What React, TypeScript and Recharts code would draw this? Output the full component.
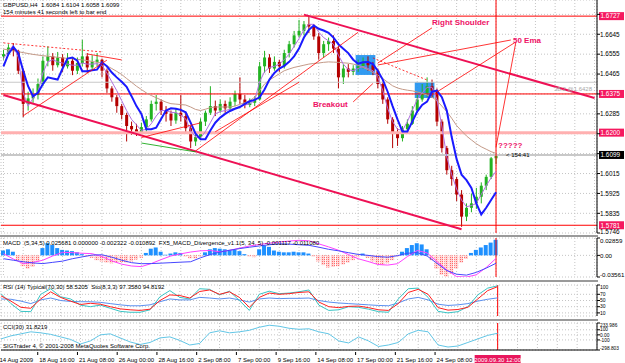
import React from 'react'
import { ComposedChart, Bar, Line, XAxis, YAxis, CartesianGrid, ReferenceLine, ReferenceArea, Cell } from 'recharts'

// GBPUSD H4, one candle here = two real H4 bars
const closes = [1.6555,1.6585,1.6570,1.6480,1.6330,1.6355,1.6370,1.6420,1.6525,1.6545,
  1.6505,1.6540,1.6500,1.6525,1.6480,1.6515,1.6545,1.6495,1.6520,1.6530,
  1.6480,1.6400,1.6360,1.6320,1.6280,1.6230,1.6215,1.6200,1.6225,1.6260,
  1.6330,1.6340,1.6300,1.6285,1.6255,1.6290,1.6275,1.6220,1.6160,1.6180,
  1.6250,1.6290,1.6320,1.6300,1.6330,1.6310,1.6340,1.6375,1.6350,1.6325,
  1.6335,1.6350,1.6500,1.6540,1.6490,1.6520,1.6500,1.6560,1.6600,1.6640,
  1.6660,1.6690,1.6680,1.6635,1.6560,1.6600,1.6615,1.6580,1.6450,1.6490,
  1.6475,1.6490,1.6500,1.6520,1.6505,1.6480,1.6420,1.6350,1.6260,1.6200,
  1.6175,1.6215,1.6240,1.6300,1.6350,1.6380,1.6410,1.6390,1.6250,1.6130,
  1.6030,1.5990,1.5920,1.5820,1.5860,1.5880,1.5910,1.5960,1.6000,1.6084,
  1.6099]
const highs = [1.6575,1.6600,1.6605,1.6575,1.6490,1.6385,1.6400,1.6445,1.6545,1.6590,
  1.6560,1.6565,1.6555,1.6560,1.6540,1.6540,1.6620,1.6560,1.6550,1.6560,
  1.6535,1.6490,1.6410,1.6370,1.6330,1.6290,1.6250,1.6240,1.6245,1.6275,
  1.6345,1.6370,1.6350,1.6320,1.6300,1.6310,1.6370,1.6290,1.6230,1.6200,
  1.6265,1.6300,1.6410,1.6345,1.6350,1.6345,1.6360,1.6390,1.6450,1.6370,
  1.6355,1.6365,1.6520,1.6570,1.6555,1.6545,1.6530,1.6575,1.6615,1.6660,
  1.6710,1.6705,1.6727,1.6690,1.6650,1.6615,1.6630,1.6640,1.6590,1.6510,
  1.6510,1.6505,1.6530,1.6540,1.6545,1.6520,1.6490,1.6430,1.6360,1.6270,
  1.6220,1.6230,1.6260,1.6320,1.6370,1.6420,1.6450,1.6440,1.6400,1.6260,
  1.6140,1.6050,1.6000,1.5940,1.5880,1.5925,1.5950,1.5975,1.6010,1.6090,
  1.6104]
const lows = [1.6530,1.6550,1.6545,1.6465,1.6270,1.6300,1.6335,1.6350,1.6410,1.6500,
  1.6480,1.6495,1.6475,1.6490,1.6460,1.6465,1.6500,1.6470,1.6485,1.6500,
  1.6450,1.6380,1.6340,1.6290,1.6260,1.6160,1.6190,1.6185,1.6195,1.6205,
  1.6250,1.6300,1.6280,1.6250,1.6230,1.6240,1.6250,1.6200,1.6130,1.6140,
  1.6170,1.6230,1.6280,1.6275,1.6290,1.6290,1.6300,1.6320,1.6330,1.6310,
  1.6315,1.6320,1.6345,1.6470,1.6470,1.6480,1.6475,1.6490,1.6540,1.6585,
  1.6630,1.6640,1.6650,1.6620,1.6530,1.6540,1.6570,1.6560,1.6400,1.6420,
  1.6450,1.6460,1.6475,1.6490,1.6480,1.6460,1.6400,1.6330,1.6240,1.6130,
  1.6140,1.6160,1.6200,1.6235,1.6290,1.6340,1.6360,1.6360,1.6230,1.6110,
  1.6010,1.5960,1.5890,1.5774,1.5800,1.5840,1.5855,1.5880,1.5940,1.5990,
  1.6058]
const firstOpen = 1.6545

// moving averages
const blueMA = [1.6500,1.6555,1.6588,1.6560,1.6480,1.6410,1.6365,1.6380,1.6420,1.6450,
  1.6445,1.6440,1.6490,1.6535,1.6540,1.6525,1.6478,1.6478,1.6482,1.6485,
  1.6518,1.6500,1.6472,1.6450,1.6430,1.6407,1.6365,1.6320,1.6285,1.6215,
  1.6215,1.6222,1.6262,1.6300,1.6310,1.6308,1.6303,1.6292,1.6245,1.6195,
  1.6170,1.6170,1.6210,1.6245,1.6268,1.6285,1.6298,1.6308,1.6316,1.6330,
  1.6342,1.6348,1.6360,1.6395,1.6440,1.6470,1.6490,1.6502,1.6520,1.6545,
  1.6580,1.6630,1.6665,1.6685,1.6670,1.6662,1.6652,1.6630,1.6600,1.6580,
  1.6560,1.6530,1.6512,1.6518,1.6520,1.6510,1.6480,1.6440,1.6385,1.6320,
  1.6260,1.6205,1.6205,1.6250,1.6295,1.6325,1.6340,1.6385,1.6390,1.6360,
  1.6300,1.6180,1.6080,1.6010,1.5985,1.5950,1.5880,1.5830,1.5860,1.5895,
  1.5930]
const violetMA = [1.6535,1.6570,1.6595,1.6540,1.6380,1.6320,1.6355,1.6385,1.6470,1.6520,
  1.6530,1.6520,1.6515,1.6510,1.6505,1.6505,1.6515,1.6510,1.6510,1.6512,
  1.6505,1.6470,1.6430,1.6390,1.6345,1.6300,1.6260,1.6235,1.6210,1.6215,
  1.6240,1.6275,1.6300,1.6300,1.6292,1.6290,1.6280,1.6262,1.6210,1.6180,
  1.6175,1.6205,1.6245,1.6285,1.6295,1.6300,1.6305,1.6310,1.6318,1.6325,
  1.6330,1.6345,1.6430,1.6475,1.6495,1.6500,1.6510,1.6530,1.6555,1.6590,
  1.6625,1.6665,1.6690,1.6690,1.6655,1.6630,1.6615,1.6600,1.6550,1.6510,
  1.6485,1.6480,1.6490,1.6500,1.6490,1.6480,1.6450,1.6390,1.6310,1.6250,
  1.6215,1.6210,1.6250,1.6300,1.6350,1.6380,1.6405,1.6405,1.6350,1.6230,
  1.6090,1.6010,1.5945,1.5895,1.5865,1.5870,1.5880,1.5920,1.5960,1.5995,
  1.6025]
const ema50 = [1.6578,1.6574,1.6570,1.6566,1.6562,1.6558,1.6554,1.6551,1.6548,1.6546,
  1.6543,1.6541,1.6538,1.6536,1.6534,1.6531,1.6529,1.6526,1.6522,1.6518,
  1.6515,1.6502,1.6490,1.6477,1.6463,1.6445,1.6428,1.6410,1.6395,1.6380,
  1.6368,1.6358,1.6348,1.6338,1.6331,1.6329,1.6327,1.6325,1.6316,1.6305,
  1.6300,1.6306,1.6313,1.6316,1.6316,1.6316,1.6316,1.6320,1.6328,1.6336,
  1.6345,1.6360,1.6390,1.6420,1.6438,1.6452,1.6466,1.6480,1.6488,1.6495,
  1.6500,1.6505,1.6510,1.6513,1.6515,1.6518,1.6520,1.6519,1.6518,1.6516,
  1.6514,1.6510,1.6505,1.6495,1.6485,1.6472,1.6460,1.6445,1.6428,1.6412,
  1.6402,1.6396,1.6392,1.6389,1.6384,1.6378,1.6370,1.6360,1.6345,1.6320,
  1.6295,1.6265,1.6232,1.6208,1.6185,1.6167,1.6150,1.6136,1.6125,1.6114,
  1.6106]

// MACD histogram, one per candle
const macdHist = [0.008,0.010,0.006,-0.008,-0.018,-0.022,-0.019,-0.010,0.012,0.020,
  0.017,0.012,0.009,0.008,0.007,0.005,0.002,-0.002,-0.004,-0.008,
  -0.010,-0.012,-0.013,-0.012,-0.011,-0.012,-0.010,-0.007,-0.004,0.004,
  0.011,0.013,0.006,0.001,0.003,0.005,0.004,-0.002,-0.005,-0.005,
  -0.002,0.005,0.010,0.012,0.011,0.010,0.009,0.009,0.007,0.002,
  -0.002,-0.003,0.010,0.016,0.014,0.008,0.006,0.005,0.005,0.006,
  0.005,0.005,0.003,-0.002,-0.010,-0.016,-0.020,-0.019,-0.018,-0.015,
  -0.012,-0.008,-0.003,0.003,-0.004,-0.010,-0.014,-0.016,-0.013,-0.008,
  -0.002,0.006,0.012,0.017,0.020,0.018,0.010,-0.008,-0.022,-0.032,
  -0.035,-0.030,-0.022,-0.012,-0.006,0.004,0.009,0.013,0.017,0.021,
  0.0257]
// indicator lines, one value every second candle
const macdBlue = [-0.0055,-0.0080,-0.0105,-0.0125,-0.0135,-0.0115,-0.0095,-0.0055,-0.0025,0.0005,
  0.0010,-0.0030,-0.0080,-0.0120,-0.0137,-0.0135,-0.0128,-0.0120,-0.0112,-0.0105,
  -0.0040,0.0015,0.0055,0.0085,0.0112,0.0135,0.0155,0.0175,0.0190,0.0185,
  0.0175,0.0166,0.0135,0.0100,0.0075,0.0045,0.0016,0.0000,-0.0020,-0.0030,
  -0.0005,0.0035,0.0045,-0.0010,-0.0130,-0.0250,-0.0310,-0.0325,-0.0280,-0.0210,
  -0.0130]
const macdPink = [0.0027,-0.0060,-0.0135,-0.0115,-0.0080,-0.0010,0.0050,0.0045,0.0035,0.0028,
  -0.0020,-0.0090,-0.0145,-0.0175,-0.0185,-0.0135,-0.0070,-0.0010,0.0025,0.0055,
  0.0075,0.0080,0.0058,0.0085,0.0120,0.0155,0.0180,0.0200,0.0220,0.0235,
  0.0248,0.0240,0.0190,0.0140,0.0085,0.0015,-0.0055,-0.0100,-0.0150,-0.0160,
  -0.0137,-0.0020,0.0080,0.0040,-0.0100,-0.0240,-0.0350,-0.0357,-0.0320,-0.0200,
  -0.0050]
const stoSignal = [65,48,28,25,55,78,60,48,37,41,38,30,23,20,18,22,50,68,66,58,79,84,70,78,60,
  28,60,74,70,72,76,78,45,30,27,31,32,27,20,18,40,76,86,70,27,19,21,28,55,82,94.8]
const stoMain = [72,40,15,14,70,88,62,55,35,30,35,25,15,12,12,20,62,82,60,55,88,86,68,80,50,
  18,70,80,72,74,78,84,35,18,20,30,28,22,14,12,55,88,90,60,15,10,14,30,68,90,97.4]
const rsi = [55,54,48,40,52,58,50,47,46,46,44,40,36,33,33,36,46,55,52,52,60,58,55,58,52,
  45,55,58,56,57,57,58,50,45,42,40,38,36,34,33,42,55,60,52,38,34,36,40,48,54,58.5]
const cci = [-80,-20,20,60,40,10,-40,-90,-180,-120,0,20,-60,-140,-190,-150,-60,-40,-110,-200,
  -170,40,80,40,60,90,150,190,170,130,110,120,60,20,-120,-160,-40,-120,-230,-200,
  -150,20,90,60,-200,-240,-220,-150,-80,-10,32]

const xLabels = ['14 Aug 2009','18 Aug 16:00','21 Aug 08:00','26 Aug 00:00','28 Aug 16:00','2 Sep 08:00',
  '7 Sep 00:00','9 Sep 16:00','14 Sep 08:00','17 Sep 00:00','21 Sep 16:00','24 Sep 08:00']
const currentLabel = '2009.09.30 12:00'
const priceTicks = [1.6735,1.6645,1.6555,1.6465,1.6375,1.6285,1.6195,1.6105,1.6015,1.5925,1.5835,1.5746]
const hiddenPriceTicks = [1.6735,1.6375,1.6195,1.6105]
const macdTicks = [0.02859, 0, -0.03561]
const rsiTicks = [100, 70, 50, 30, 10]
const cciTicks = [233.986, 100, 0, -100, -298.803]

const SLOTS = 121
const LAST = closes.length - 1
const gridTicks = Array.from({ length: 31 }, (_, k) => k * 4)

const rows = Array.from({ length: SLOTS }, (_, j) => {
  const has = j <= LAST
  const even = j % 2 === 0 && has
  return {
    j,
    range: has ? [lows[j], highs[j]] : null,
    o: has ? (j === 0 ? firstOpen : closes[j - 1]) : null,
    c: has ? closes[j] : null,
    h: has ? highs[j] : null,
    l: has ? lows[j] : null,
    blue: has ? blueMA[j] : null,
    violet: has ? violetMA[j] : null,
    brown: has ? ema50[j] : null,
    hist: has ? macdHist[j] : null,
    mBlue: even ? macdBlue[j / 2] : null,
    mPink: even ? macdPink[j / 2] : null,
    sSig: even ? stoSignal[j / 2] : null,
    sMain: even ? stoMain[j / 2] : null,
    rsi: even ? rsi[j / 2] : null,
    cci: even ? cci[j / 2] : null,
  }
})

const RED = '#ff0000'
const TREND = '#ee1155'
const NOTE = '#ee1166'
const GRID = '#c4c4c4'
const FONT = '"Liberation Sans", Arial, sans-serif'

function Candle(props: any) {
  const { x, y, width, height, payload } = props
  if (!payload || payload.c == null || !isFinite(y)) return <g />
  const top = Math.min(y, y + height)
  const h = Math.abs(height)
  const k = h / Math.max(payload.h - payload.l, 1e-9)
  const bTop = top + (payload.h - Math.max(payload.o, payload.c)) * k
  const bBot = top + (payload.h - Math.min(payload.o, payload.c)) * k
  const col = payload.c >= payload.o ? '#22b322' : '#b40000'
  const cx = x + width / 2
  return (
    <g>
      <line x1={cx} x2={cx} y1={top} y2={top + h} stroke={col} strokeWidth={1} />
      <rect x={x} y={bTop} width={width} height={Math.max(1, bBot - bTop)} fill={col} />
    </g>
  )
}

function PriceTick(props: any) {
  const { x, y, payload } = props
  if (hiddenPriceTicks.some((v) => Math.abs(v - payload.value) < 1e-6)) return <g />
  const ty = payload.value === 1.5746 ? y + 1.2 : y + 2.3
  return <text x={x - 2} y={ty} fontSize={6.4} fill="#000">{payload.value.toFixed(4)}</text>
}

const tag = (text: string, bg: string) => (props: any) => {
  const vb = props.viewBox || {}
  const x = (vb.x || 0) + (vb.width || 0)
  const y = vb.y || 0
  return (
    <g>
      <rect x={x + 2} y={y - 4} width={25} height={8} fill={bg} />
      <text x={x + 3.5} y={y + 2.3} fontSize={6.4} fill="#fff">{text}</text>
    </g>
  )
}

function XTick(props: any) {
  const { x, y, payload } = props
  const v = payload.value
  if (v === 100) {
    return (
      <g>
        <rect x={x - 23} y={y - 1} width={46} height={9} fill="#e8175d" />
        <text x={x} y={y + 5.8} fontSize={6} fill="#fff" textAnchor="middle">{currentLabel}</text>
      </g>
    )
  }
  if (v % 8 !== 0 || v / 8 >= xLabels.length) return <g />
  return (
    <g>
      <line x1={x - 3} x2={x - 3} y1={y - 4} y2={y - 1} stroke="#000" />
      <text x={x - 1.5} y={y + 5.8} fontSize={6} fill="#000">{xLabels[v / 8]}</text>
    </g>
  )
}

// right-hand labels of the sub windows; labels at the panel edges are pulled inside
const sideTick = (fmt: (v: number) => string, top: number, bottom: number, size: number) => (props: any) => {
  const v = props.payload.value
  const ty = v === top ? props.y + size * 0.8 : v === bottom ? props.y - 0.5 : props.y + size * 0.35
  return <text x={props.x - 2} y={ty} fontSize={size} fill="#000">{fmt(v)}</text>
}

const seg = (x1: number, y1: number, x2: number, y2: number) => [{ x: x1, y: y1 }, { x: x2, y: y2 }]

const panelLabel: React.CSSProperties = { position: 'absolute', left: 3, fontSize: 6, lineHeight: '7px', whiteSpace: 'nowrap', color: '#000' }
const note: React.CSSProperties = { position: 'absolute', fontSize: 8, fontWeight: 700, color: NOTE, whiteSpace: 'nowrap', lineHeight: '9px' }
const sep = (top: number): React.CSSProperties => ({ position: 'absolute', left: 0, top, width: 598, height: 2, background: '#9a9a9a' })

export default function App() {
  const common = { data: rows, width: 625 }
  return (
    <div style={{ position: 'relative', width: 625, height: 363, background: '#fff', fontFamily: FONT, overflow: 'hidden' }}>
      <style>{'body{margin:0}'}</style>

      <div style={{ position: 'absolute', top: 0, left: 0 }}>
        <ComposedChart {...common} height={235} margin={{ top: 0, right: 0, bottom: 2, left: 1 }}>
          <CartesianGrid stroke={GRID} strokeDasharray="1 2" />
          <XAxis dataKey="j" hide ticks={gridTicks} interval={0} />
          <YAxis orientation="right" width={28} domain={[1.5746, 1.68]} allowDataOverflow ticks={priceTicks} interval={0}
            tick={(p: any) => <PriceTick {...p} />} tickSize={3} axisLine={{ stroke: '#000' }} tickLine={{ stroke: '#000' }} />
          <ReferenceArea x1={72} x2={75} y1={1.6461} y2={1.6551} fill="#1c90f0" fillOpacity={0.9} stroke="none" />
          <ReferenceArea x1={84} x2={87} y1={1.6357} y2={1.6429} fill="#1c90f0" fillOpacity={0.9} stroke="none" />
          <ReferenceLine y={1.6428} stroke="#c8c8c8" label={{ value: '38.2 @1.6428', position: 'insideTopRight', fontSize: 6, fill: '#a8a8a8' }} />
          <ReferenceLine y={1.6099} stroke="#c8c8c8" strokeWidth={2} label={tag('1.6099', '#000')} />
          <ReferenceLine y={1.62} stroke="#ffb0b0" strokeWidth={3} label={tag('1.6200', '#f5195f')} />
          <ReferenceLine y={1.6727} stroke={RED} label={tag('1.6727', '#f5195f')} />
          <ReferenceLine y={1.6375} stroke={RED} label={tag('1.6375', '#f5195f')} />
          <ReferenceLine y={1.5781} stroke={RED} label={tag('1.5781', '#f5195f')} />
          <ReferenceLine x={100} stroke={RED} />
          <Bar dataKey="range" barSize={3} shape={(p: any) => <Candle {...p} />} isAnimationActive={false} />
          <Line dataKey="brown" stroke="#c49a88" strokeWidth={1} dot={false} isAnimationActive={false} />
          <Line dataKey="violet" stroke="#b070e0" strokeWidth={1} dot={false} isAnimationActive={false} />
          <Line dataKey="blue" stroke="#1a1aff" strokeWidth={2} dot={false} isAnimationActive={false} />
          <ReferenceLine segment={seg(0, 1.6370, 93, 1.5763)} stroke={TREND} strokeWidth={2} />
          <ReferenceLine segment={seg(61, 1.6734, 120, 1.6357)} stroke={TREND} strokeWidth={2} />
          <ReferenceLine segment={seg(39, 1.6117, 72, 1.6654)} stroke={RED} strokeWidth={0.8} />
          <ReferenceLine segment={seg(43, 1.6204, 60, 1.6428)} stroke={RED} strokeWidth={0.8} />
          <ReferenceLine segment={seg(0, 1.6606, 20, 1.6565)} stroke={RED} strokeWidth={0.8} strokeDasharray="2 2" />
          <ReferenceLine segment={seg(17, 1.6556, 24, 1.6529)} stroke={RED} strokeWidth={0.8} />
          <ReferenceLine segment={seg(4, 1.6276, 21, 1.6528)} stroke={RED} strokeWidth={0.8} />
          <ReferenceLine segment={seg(28, 1.6178, 40, 1.6244)} stroke={RED} strokeWidth={0.8} />
          <ReferenceLine segment={seg(28, 1.6153, 39, 1.6113)} stroke="#00a000" strokeWidth={0.8} />
          <ReferenceLine segment={seg(87, 1.6674, 76, 1.6515)} stroke={RED} strokeWidth={0.8} />
          <ReferenceLine segment={seg(103, 1.6619, 76, 1.6506)} stroke={RED} strokeWidth={0.8} />
          <ReferenceLine segment={seg(104, 1.6610, 88, 1.6384)} stroke={RED} strokeWidth={0.8} />
          <ReferenceLine segment={seg(104, 1.6606, 100, 1.6135)} stroke={RED} strokeWidth={0.8} />
          <ReferenceLine segment={seg(71, 1.6339, 75, 1.6422)} stroke={RED} strokeWidth={0.8} />
          <ReferenceLine segment={seg(75, 1.6538, 86, 1.6438)} stroke={RED} strokeWidth={0.8} strokeDasharray="2 2" />
        </ComposedChart>
      </div>

      <div style={sep(235)} />
      <div style={{ position: 'absolute', top: 237, left: 0 }}>
        <ComposedChart {...common} height={43} margin={{ top: 1, right: 0, bottom: 3, left: 1 }}>
          <defs>
            <pattern id="negDots" width="2" height="2" patternUnits="userSpaceOnUse">
              <rect x="0" y="0" width="2" height="2" fill="#ffd6d6" />
              <rect x="0" y="0" width="1" height="1" fill="#ff6a6a" />
            </pattern>
          </defs>
          <CartesianGrid stroke={GRID} strokeDasharray="1 2" />
          <XAxis dataKey="j" hide ticks={gridTicks} interval={0} />
          <YAxis orientation="right" width={28} domain={[-0.03561, 0.02859]} allowDataOverflow ticks={macdTicks} interval={0}
            tick={sideTick((v) => (v === 0 ? '0.00' : String(v)), 0.02859, -0.03561, 6.2)} tickSize={3} axisLine={{ stroke: '#000' }} tickLine={{ stroke: '#000' }} />
          <ReferenceLine x={100} stroke={RED} />
          <Bar dataKey="hist" barSize={4} isAnimationActive={false}>
            {rows.map((r) => (
              <Cell key={r.j} fill={(r.hist ?? 0) >= 0 ? '#1e90ff' : 'url(#negDots)'} />
            ))}
          </Bar>
          <Line dataKey="mPink" stroke="#ff40ff" strokeWidth={1} dot={false} connectNulls isAnimationActive={false} />
          <Line dataKey="mBlue" stroke="#4646ff" strokeWidth={1} dot={false} connectNulls isAnimationActive={false} />
        </ComposedChart>
      </div>

      <div style={sep(280)} />
      <div style={{ position: 'absolute', top: 282, left: 0 }}>
        <ComposedChart {...common} height={37} margin={{ top: 3, right: 0, bottom: 3, left: 1 }}>
          <CartesianGrid stroke={GRID} strokeDasharray="1 2" />
          <XAxis dataKey="j" hide ticks={gridTicks} interval={0} />
          <YAxis orientation="right" width={28} domain={[0, 100]} ticks={rsiTicks} interval={0}
            tick={sideTick((v) => String(v), 100, 0, 5)} tickSize={3} axisLine={{ stroke: '#000' }} tickLine={{ stroke: '#000' }} />
          <ReferenceLine x={100} stroke={RED} />
          <Line dataKey="rsi" stroke="#5a8ff0" strokeWidth={1} dot={false} connectNulls isAnimationActive={false} />
          <Line dataKey="sMain" stroke="#38c4c4" strokeWidth={1} dot={false} connectNulls isAnimationActive={false} />
          <Line dataKey="sSig" stroke="#ff2020" strokeWidth={1} dot={false} connectNulls isAnimationActive={false} />
        </ComposedChart>
      </div>

      <div style={sep(319)} />
      <div style={{ position: 'absolute', top: 321, left: 0 }}>
        <ComposedChart {...common} height={42} margin={{ top: 2, right: 0, bottom: 0, left: 1 }}>
          <CartesianGrid stroke={GRID} strokeDasharray="1 2" />
          <XAxis dataKey="j" height={13} ticks={gridTicks} interval={0} tick={(p: any) => <XTick {...p} />}
            tickLine={false} tickSize={4} axisLine={{ stroke: '#000' }} />
          <YAxis orientation="right" width={28} domain={[-298.803, 233.986]} allowDataOverflow ticks={cciTicks} interval={0}
            tick={sideTick((v) => (v === 0 ? '0.00' : String(v)), 233.986, -298.803, 4.8)} tickSize={3} axisLine={{ stroke: '#000' }} tickLine={{ stroke: '#000' }} />
          <ReferenceLine x={100} stroke={RED} />
          <Line dataKey="cci" stroke="#62c6e6" strokeWidth={1} dot={false} connectNulls isAnimationActive={false} />
        </ComposedChart>
      </div>

      <div style={{ ...panelLabel, top: 2 }}>GBPUSD,H4&nbsp;&nbsp;1.6084 1.6104 1.6058 1.6099</div>
      <div style={{ ...panelLabel, top: 9 }}>154 minutes 41 seconds left to bar end</div>
      <div style={{ ...panelLabel, top: 240 }}>MACD&nbsp; (5,34,5) 0.025681 0.000000 -0.002322 -0.010892&nbsp; FX5_MACD_Divergence_v1.1(5, 34, 5) -0.001117 -0.011080</div>
      <div style={{ ...panelLabel, top: 284 }}>RSI (14) Typical(70,30) 58.5205&nbsp; Sto(8,3,3) 97.3580 94.8192</div>
      <div style={{ ...panelLabel, top: 324 }}>CCI(30) 31.8219</div>
      <div style={{ ...panelLabel, top: 343 }}>SIGTrader 4, © 2001-2008 MetaQuotes Software Corp.</div>

      <div style={{ ...note, left: 432, top: 18 }}>Right Shoulder</div>
      <div style={{ ...note, left: 513, top: 36 }}>50 Ema</div>
      <div style={{ ...note, left: 313, top: 100 }}>Breakout</div>
      <div style={{ ...note, left: 498, top: 141 }}>?????</div>
      <div style={{ ...panelLabel, left: 506, top: 152 }}>&lt; 154:41</div>
    </div>
  )
}
